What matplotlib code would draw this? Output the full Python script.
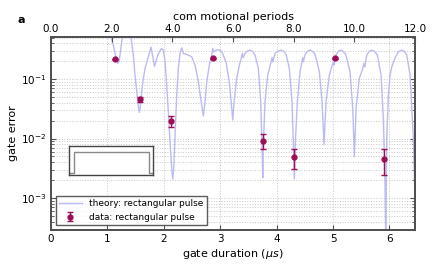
import numpy as np
import matplotlib.pyplot as plt
from matplotlib.ticker import FormatStrFormatter

# theory curve (gate duration in us, gate error)
theory_x = [1.00, 1.064, 1.105, 1.135, 1.165, 1.183, 1.206, 1.223, 1.254, 1.264,
            1.330, 1.418, 1.459, 1.489, 1.520, 1.548, 1.566, 1.583, 1.608, 1.637,
            1.667, 1.725, 1.773, 1.835, 1.897, 1.959, 1.991, 2.021, 2.051, 2.080,
            2.110, 2.140, 2.158, 2.176, 2.199, 2.229, 2.257, 2.287, 2.317, 2.346,
            2.406, 2.495, 2.553, 2.612, 2.672, 2.700, 2.730, 2.761, 2.807, 2.849,
            2.867, 2.885, 2.92, 2.966, 3.0, 3.032, 3.103, 3.156, 3.191, 3.222, 3.245, 3.293,
            3.339, 3.363, 3.392, 3.404, 3.440, 3.48, 3.528, 3.575, 3.617, 3.676, 3.718, 3.741,
            3.754, 3.764, 3.794, 3.842, 3.895, 3.918, 3.931, 3.972, 4.02, 4.078, 4.125, 4.167,
            4.225, 4.273, 4.296, 4.314, 4.332, 4.367, 4.415, 4.445, 4.463, 4.473,
            4.504, 4.545, 4.592, 4.64, 4.681, 4.757, 4.805, 4.840, 4.876, 4.934, 4.977, 5.005,
            5.018, 5.053, 5.09, 5.137, 5.18, 5.225, 5.301, 5.349, 5.378, 5.408, 5.466, 5.527,
            5.550, 5.562, 5.598, 5.64, 5.686, 5.735, 5.785, 5.851, 5.892, 5.922, 5.934, 5.952,
            5.981, 6.011, 6.041, 6.099, 6.16, 6.218, 6.265, 6.307, 6.365, 6.406, 6.424, 6.454,
            6.50]
theory_y = [0.90, 0.514, 0.372, 0.270, 0.208, 0.184, 0.195, 0.253, 0.424, 0.514,
            0.80, 0.514, 0.253, 0.117, 0.0612, 0.0342, 0.0275, 0.0342, 0.0612, 0.103,
            0.151, 0.237, 0.345, 0.165, 0.260, 0.328, 0.307, 0.195, 0.0793, 0.0282,
            0.00883, 0.00316, 0.00209, 0.00316, 0.0115, 0.0538, 0.151, 0.270, 0.336, 0.270,
            0.260, 0.237, 0.172, 0.0901, 0.0366, 0.0239, 0.0415, 0.0901, 0.172, 0.253,
            0.328, 0.284, 0.305, 0.313, 0.305, 0.284, 0.193, 0.0962, 0.0444, 0.0205, 0.0415, 0.103,
            0.172, 0.208, 0.270, 0.228, 0.270, 0.296, 0.307, 0.292, 0.253, 0.151, 0.0415, 0.00778,
            0.00219, 0.00778, 0.0415, 0.117, 0.184, 0.228, 0.195, 0.270, 0.294, 0.307, 0.293, 0.260,
            0.151, 0.0415, 0.00883, 0.00209, 0.00883, 0.0415, 0.133, 0.184, 0.228, 0.195,
            0.260, 0.293, 0.307, 0.292, 0.260, 0.133, 0.0415, 0.00800, 0.0415, 0.117, 0.161, 0.195,
            0.172, 0.253, 0.291, 0.307, 0.292, 0.260, 0.133, 0.0322, 0.00494, 0.0322, 0.103, 0.151,
            0.184, 0.161, 0.253, 0.291, 0.307, 0.292, 0.253, 0.117, 0.0218, 0.00165, 0.0002, 0.0101,
            0.0538, 0.117, 0.161, 0.228, 0.288, 0.307, 0.291, 0.253, 0.117, 0.0218, 0.0101, 0.0009,
            0.0003]

# measured gate errors
data_x = [1.135, 1.578, 2.133, 2.878, 3.754, 4.303, 5.035, 5.904]
data_y = [0.215, 0.047, 0.0197, 0.223, 0.0091, 0.0049, 0.223, 0.0045]
err_lo = [0.005, 0.0055, 0.0043, 0.005, 0.0025, 0.0018, 0.005, 0.0021]
err_hi = [0.005, 0.0035, 0.0044, 0.005, 0.0026, 0.0017, 0.005, 0.0021]

# inset pulse shape
pulse_t = [0.0, 0.05, 0.05, 0.95, 0.95, 1.0]
pulse_a = [0, 0, 1, 1, 0, 0]

theory_col = "#bbbbf2"
data_col = "#9c0f55"
spine_col = "#505050"

fig = plt.figure(figsize=(4.36, 2.73), dpi=100)
ax = fig.add_axes([0.117, 0.1575, 0.835, 0.707])

ax.plot(theory_x, theory_y, "-", color=theory_col, lw=1.0,
        label="theory: rectangular pulse", zorder=2)
ax.errorbar(data_x, data_y, yerr=[err_lo, err_hi], fmt="o", color=data_col,
            ms=3.5, capsize=2, elinewidth=1, capthick=1,
            label="data: rectangular pulse", zorder=3)

ax.set_yscale("log")
ax.set_xlim(0, 6.454)
ax.set_ylim(2.9e-4, 0.51)
ax.set_xticks(range(7))
ax.grid(True, which="major", ls=":", color="#c8c8c8", lw=0.7)
ax.grid(True, which="minor", axis="y", ls=":", color="#c8c8c8", lw=0.7)
ax.set_xlabel("gate duration ($\\mu s$)", fontsize=8, labelpad=2)
ax.set_ylabel("gate error", fontsize=8, labelpad=2)
ax.tick_params(which="both", direction="in", right=True, labelsize=7.5,
               color=spine_col)
ax.tick_params(which="major", length=3.5)
ax.tick_params(which="minor", length=2)
ax.tick_params(axis="x", pad=3)

leg = ax.legend(loc="lower left", fontsize=6.5, fancybox=False,
                borderaxespad=0.3, handlelength=2.5, borderpad=0.4,
                labelspacing=0.5, bbox_to_anchor=(0.005, 0.01))
leg.get_frame().set_edgecolor("#333333")
leg.get_frame().set_linewidth(1.0)

top = ax.twiny()
top.set_xlim(0, 12)
top.set_xticks(np.arange(0, 13, 2))
top.xaxis.set_major_formatter(FormatStrFormatter("%.1f"))
top.tick_params(direction="in", labelsize=7.5, length=3.5, pad=2, color=spine_col)
top.set_xlabel("com motional periods", fontsize=8, labelpad=3)

for a in (ax, top):
    for s in a.spines.values():
        s.set_color(spine_col)
        s.set_linewidth(1.3)

# inset with the pulse shape
ins = fig.add_axes([0.159, 0.359, 0.193, 0.106])
ins.plot(pulse_t, pulse_a, color="#888888", lw=1.0)
ins.set_xlim(0, 1)
ins.set_ylim(-0.111, 1.278)
ins.set_xticks([])
ins.set_yticks([])
for s in ins.spines.values():
    s.set_color("#444444")
    s.set_linewidth(1.0)

fig.text(0.04, 0.915, "a", fontsize=8, fontweight="bold")

fig.savefig("out.png", dpi=100)
